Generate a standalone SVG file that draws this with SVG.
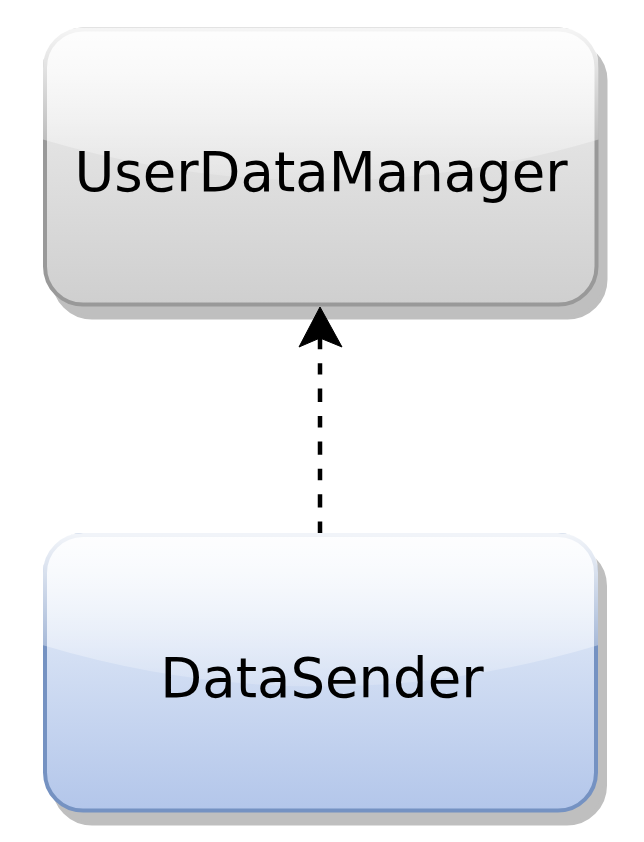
<svg xmlns="http://www.w3.org/2000/svg" width="644" height="842" viewBox="0 0 644 842">
  <defs>
    <linearGradient id="grayFill" x1="0" y1="0" x2="0" y2="1">
      <stop offset="0" stop-color="#f0f0f0"/>
      <stop offset="1" stop-color="#cfcfcf"/>
    </linearGradient>
    <linearGradient id="blueFill" x1="0" y1="0" x2="0" y2="1">
      <stop offset="0" stop-color="#edf3fb"/>
      <stop offset="1" stop-color="#b3c6ea"/>
    </linearGradient>
    <linearGradient id="glassTop" gradientUnits="userSpaceOnUse" x1="0" y1="29.5" x2="0" y2="194.5">
      <stop offset="0" stop-color="#ffffff" stop-opacity="0.9"/>
      <stop offset="1" stop-color="#ffffff" stop-opacity="0.1"/>
    </linearGradient>
    <linearGradient id="glassBottom" gradientUnits="userSpaceOnUse" x1="0" y1="535" x2="0" y2="700">
      <stop offset="0" stop-color="#ffffff" stop-opacity="0.9"/>
      <stop offset="1" stop-color="#ffffff" stop-opacity="0.1"/>
    </linearGradient>
  </defs>
  <style>
    .shadow { fill: #bfbfbf; stroke: #bfbfbf; stroke-width: 4; }
    .gray { fill: url(#grayFill); stroke: #999999; stroke-width: 4; }
    .blue { fill: url(#blueFill); stroke: #7592c2; stroke-width: 4; }
    .label { font-family: "DejaVu Sans", Verdana, sans-serif; font-size: 54.5px; fill: #000000; text-anchor: middle; }
    .edge { fill: none; stroke: #000000; stroke-width: 4.5; stroke-dasharray: 11.4 14 13.4 14; }
    .head { fill: #000000; stroke: #000000; stroke-width: 1; stroke-linejoin: miter; }
  </style>

  <g id="UserDataManager">
    <rect class="shadow" x="54" y="42.5" width="551.5" height="275" rx="38" ry="38"/>
    <rect class="gray" x="45" y="29.5" width="551.5" height="275" rx="38" ry="38"/>
    <path fill="url(#glassTop)" d="M 83 27.5 Q 43 27.5 43 67.5 L 43 139.5 Q 320.75 222 598.5 139.5 L 598.5 67.5 Q 598.5 27.5 558.5 27.5 Z"/>
    <text class="label" x="321" y="191">UserDataManager</text>
  </g>

  <g id="DataSender">
    <rect class="shadow" x="54" y="548" width="551" height="275.5" rx="38" ry="38"/>
    <rect class="blue" x="45" y="535" width="551" height="275.5" rx="38" ry="38"/>
    <path fill="url(#glassBottom)" d="M 83 533 Q 43 533 43 573 L 43 645.2 Q 320.5 727.9 598 645.2 L 598 573 Q 598 533 558 533 Z"/>
    <text class="label" x="322" y="697">DataSender</text>
  </g>

  <g id="connectors">
    <path class="edge" d="M 320 533 L 320 333"/>
    <path class="head" d="M 320 307 L 342 347 L 320 338 L 299 347 Z"/>
  </g>
</svg>
